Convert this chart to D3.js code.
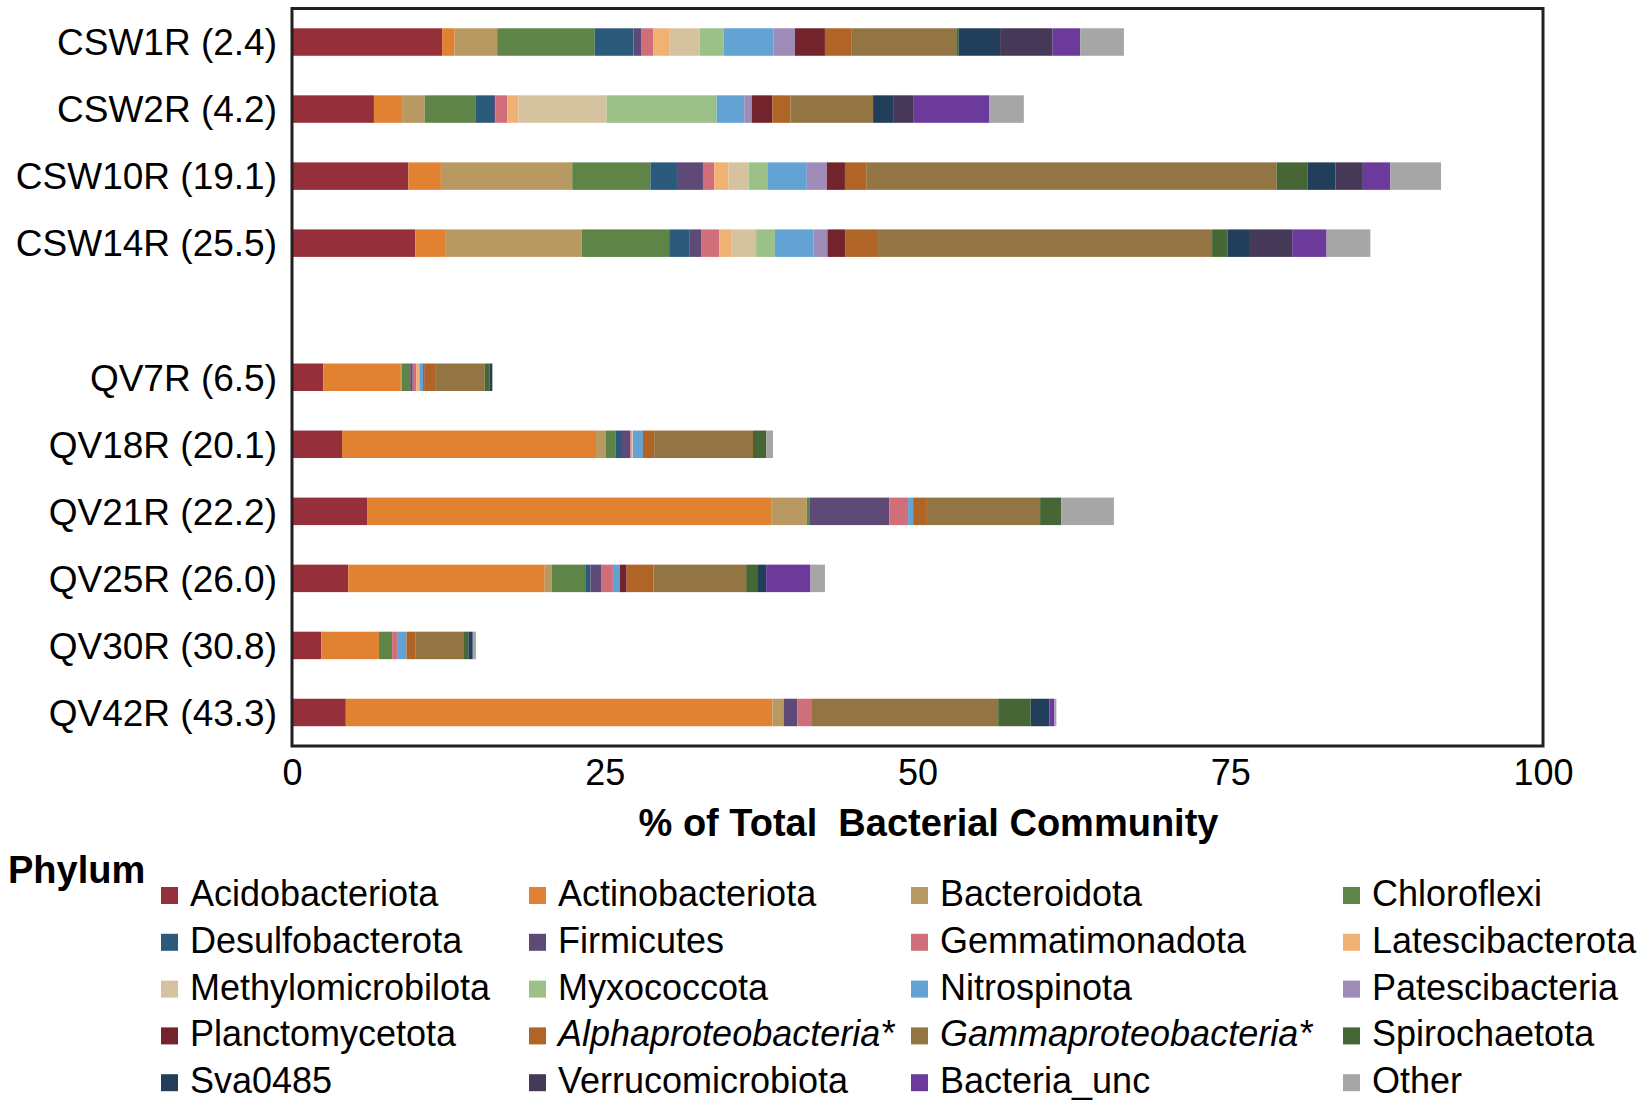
<!DOCTYPE html>
<html>
<head>
<meta charset="utf-8">
<script src="https://cdn.jsdelivr.net/npm/d3@7"></script>
<style>
  body { margin: 0; background: #fff; }
  svg text { font-family: "Liberation Sans", Arial, Helvetica, sans-serif; fill: #000; }
</style>
</head>
<body>
<div class="chart-wrapper"></div>
<script>
var width = 1645, height = 1103;

// samples, top to bottom (a blank slot separates the two sites)
var samples = ["CSW1R (2.4)", "CSW2R (4.2)", "CSW10R (19.1)", "CSW14R (25.5)",
  "QV7R (6.5)", "QV18R (20.1)", "QV21R (22.2)", "QV25R (26.0)", "QV30R (30.8)", "QV42R (43.3)"];

var phyla = ["Acidobacteriota", "Actinobacteriota", "Bacteroidota", "Chloroflexi",
  "Desulfobacterota", "Firmicutes", "Gemmatimonadota", "Latescibacterota",
  "Methylomicrobilota", "Myxococcota", "Nitrospinota", "Patescibacteria",
  "Planctomycetota", "Alphaproteobacteria*", "Gammaproteobacteria*", "Spirochaetota",
  "Sva0485", "Verrucomicrobiota", "Bacteria_unc", "Other"];

var colors = ["#95303a", "#e08232", "#b99962", "#5e8547",
  "#2b5a7b", "#5d4a76", "#d06f79", "#f0b272",
  "#d5c29e", "#9bc088", "#62a3d4", "#9e8bb8",
  "#72232b", "#b06425", "#937443", "#466635",
  "#213f5b", "#463857", "#6b3a9a", "#a6a6a6"];

// % of total community, one value per phylum (same order as phyla)
var csw1r  = [12.0, 1.0, 3.4, 7.8, 3.1, 0.6, 1.0, 1.3, 2.4, 1.9, 4.0, 1.7, 2.4, 2.1, 8.4, 0.2, 3.3, 4.2, 2.2, 3.5];
var csw2r  = [6.55, 2.25, 1.8, 4.1, 1.45, 0.1, 0.95, 0.9, 7.05, 8.8, 2.2, 0.6, 1.65, 1.45, 6.6, 0, 1.6, 1.6, 6.1, 2.75];
var csw10r = [9.3, 2.6, 10.5, 6.25, 2.2, 2.0, 0.9, 1.15, 1.6, 1.5, 3.15, 1.6, 1.45, 1.7, 32.8, 2.5, 2.2, 2.2, 2.2, 4.05];
var csw14r = [9.85, 2.45, 10.85, 7.0, 1.6, 0.95, 1.45, 0.95, 2.0, 1.5, 3.1, 1.1, 1.45, 2.6, 26.7, 1.25, 1.7, 3.45, 2.75, 3.5];
var qv7r   = [2.5, 6.2, 0.05, 0.7, 0, 0.2, 0.3, 0.2, 0, 0.05, 0.3, 0, 0.1, 0.9, 3.9, 0.4, 0.2, 0, 0, 0.05];
var qv18r  = [4.0, 20.3, 0.8, 0.75, 0.45, 0.75, 0.1, 0.05, 0.05, 0, 0.8, 0, 0, 0.9, 7.9, 1.05, 0, 0, 0, 0.55];
var qv21r  = [6.0, 32.3, 2.85, 0.2, 0, 6.4, 1.5, 0, 0, 0, 0.4, 0, 0, 1.1, 9.05, 1.7, 0, 0, 0, 4.2];
var qv25r  = [4.5, 15.7, 0.55, 2.75, 0.35, 0.9, 0.9, 0, 0, 0, 0.55, 0, 0.55, 2.15, 7.4, 0.95, 0.65, 0, 3.55, 1.15];
var qv30r  = [2.35, 4.6, 0, 1.05, 0, 0, 0.4, 0, 0, 0, 0.75, 0, 0, 0.7, 3.9, 0.35, 0.35, 0, 0, 0.25];
var qv42r  = [4.3, 34.1, 0.9, 0, 0, 1.1, 1.1, 0, 0, 0, 0, 0, 0, 0, 14.95, 2.6, 1.5, 0, 0.4, 0.15];

var xTicks = [0, 25, 50, 75, 100];

var sampleValues = [csw1r, csw2r, csw10r, csw14r, qv7r, qv18r, qv21r, qv25r, qv30r, qv42r];

// build rows for d3.stack
var table = samples.map(function (s, i) {
  var row = { sample: s };
  phyla.forEach(function (p, j) { row[p] = sampleValues[i][j]; });
  return row;
});

var plot = { left: 292, right: 1543, top: 8.5, bottom: 746 };

var slots = samples.slice(0, 4).concat(["__gap"], samples.slice(4));

var x = d3.scaleLinear()
  .domain([0, 100])
  .range([plot.left, plot.right]);

var y = d3.scaleBand()
  .domain(slots)
  .range([plot.top, plot.bottom])
  .paddingInner(0.59)
  .paddingOuter(0.295);

var color = d3.scaleOrdinal()
  .domain(phyla)
  .range(colors);

var svg = d3.select(".chart-wrapper").append("svg")
  .attr("width", width)
  .attr("height", height);

var series = d3.stack().keys(phyla)(table);

svg.append("g")
  .selectAll("g")
  .data(series)
  .join("g")
  .attr("fill", function (d) { return color(d.key); })
  .selectAll("rect")
  .data(function (d) { return d.filter(function (e) { return e[1] - e[0] > 0; }); })
  .join("rect")
  .attr("x", function (d) { return x(d[0]); })
  .attr("width", function (d) { return x(d[1]) - x(d[0]); })
  .attr("y", function (d) { return y(d.data.sample); })
  .attr("height", y.bandwidth());

// frame around plot
svg.append("rect")
  .attr("x", plot.left)
  .attr("y", plot.top)
  .attr("width", plot.right - plot.left)
  .attr("height", plot.bottom - plot.top)
  .attr("fill", "none")
  .attr("stroke", "#231f20")
  .attr("stroke-width", 3);

// x axis
var xAxis = svg.append("g")
  .attr("transform", "translate(0," + plot.bottom + ")")
  .call(d3.axisBottom(x).tickValues(xTicks).tickSize(0).tickPadding(13));
xAxis.select(".domain").remove();
xAxis.selectAll("text")
  .attr("font-size", 36)
  .attr("font-family", "Liberation Sans, Arial, sans-serif")
  .attr("fill", "#000");

// y axis (sample labels)
var yAxis = svg.append("g")
  .attr("transform", "translate(" + plot.left + ",0)")
  .call(d3.axisLeft(y).tickSize(0).tickPadding(15));
yAxis.select(".domain").remove();
yAxis.selectAll(".tick").filter(function (d) { return d === "__gap"; }).remove();
yAxis.selectAll("text")
  .attr("font-size", 37)
  .attr("font-family", "Liberation Sans, Arial, sans-serif")
  .attr("fill", "#000")
  .attr("dy", "0.36em");

svg.append("text")
  .attr("x", (plot.left + plot.right) / 2 + 11)
  .attr("y", 836)
  .attr("text-anchor", "middle")
  .attr("font-size", 38)
  .attr("font-weight", "bold")
  .attr("xml:space", "preserve")
  .text("% of Total  Bacterial Community");

// legend
svg.append("text")
  .attr("x", 8)
  .attr("y", 883)
  .attr("font-size", 38)
  .attr("font-weight", "bold")
  .text("Phylum");

var legCols = [161, 529, 911, 1343];
var legRow0 = 887, legStep = 46.8;

var leg = svg.append("g")
  .selectAll("g")
  .data(phyla)
  .join("g")
  .attr("transform", function (d, i) {
    return "translate(" + legCols[i % 4] + "," + (legRow0 + Math.floor(i / 4) * legStep) + ")";
  });

leg.append("rect")
  .attr("width", 17)
  .attr("height", 17)
  .attr("fill", function (d) { return color(d); });

leg.append("text")
  .attr("x", 29)
  .attr("y", 19)
  .attr("font-size", 36)
  .attr("font-style", function (d) { return d.indexOf("proteobacteria") > 0 ? "italic" : "normal"; })
  .text(function (d) { return d; });
</script>
</body>
</html>
